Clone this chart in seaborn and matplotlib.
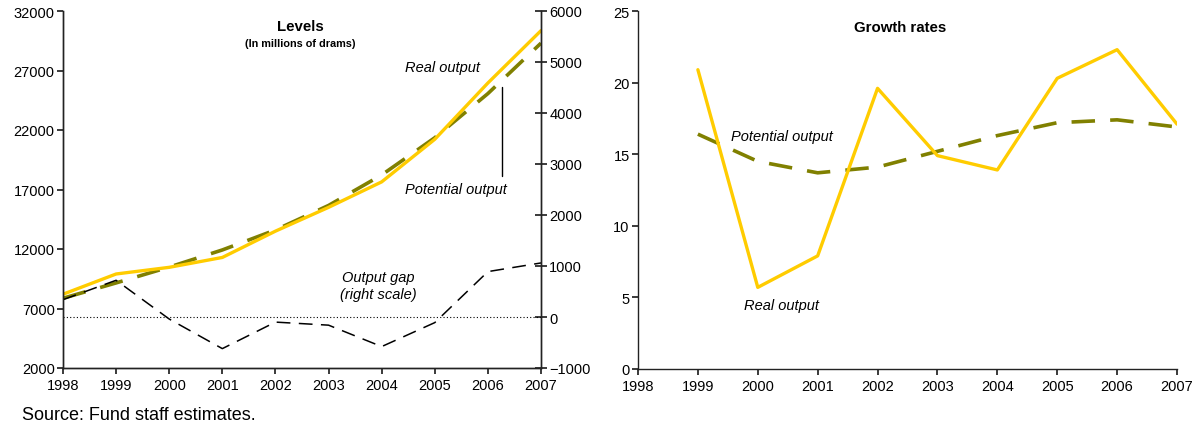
import matplotlib
matplotlib.use("Agg")
import matplotlib.pyplot as plt
import seaborn as sns
import pandas as pd

# ---- data ----
years = [1998, 1999, 2000, 2001, 2002, 2003, 2004, 2005, 2006, 2007]
real_level = [8200, 9900, 10460, 11290, 13500, 15500, 17640, 21220, 25950, 30350]
potential_level = [7860, 9150, 10480, 11920, 13600, 15660, 18220, 21350, 25060, 29300]
output_gap = [340, 720, -40, -620, -100, -160, -580, -110, 890, 1060]

growth_years = [1999, 2000, 2001, 2002, 2003, 2004, 2005, 2006, 2007]
real_growth = [20.9, 5.7, 7.9, 19.6, 14.9, 13.9, 20.3, 22.3, 17.1]
potential_growth = [16.4, 14.5, 13.7, 14.1, 15.2, 16.3, 17.2, 17.4, 16.9]

left_ticks = [2000, 7000, 12000, 17000, 22000, 27000, 32000]
right_ticks = [-1000, 0, 1000, 2000, 3000, 4000, 5000, 6000]
growth_ticks = [0, 5, 10, 15, 20, 25]

YELLOW = "#FFCC00"
OLIVE = "#808000"

sns.set_theme(style="ticks")
plt.rcParams['font.family'] = ['Liberation Sans', 'DejaVu Sans']
plt.rcParams['axes.edgecolor'] = '#222222'
plt.rcParams['axes.linewidth'] = 1.0
plt.rcParams['text.color'] = 'black'
plt.rcParams['xtick.color'] = '#222222'
plt.rcParams['ytick.color'] = '#222222'
plt.rcParams['xtick.labelcolor'] = 'black'
plt.rcParams['ytick.labelcolor'] = 'black'

W, H = 1198, 431
fig = plt.figure(figsize=(W / 100, H / 100), dpi=100)

ax1 = fig.add_axes([63 / W, 1 - 369 / H, (541 - 63) / W, 357 / H])
ax1b = ax1.twinx()
ax2 = fig.add_axes([638 / W, 1 - 370 / H, (1177 - 638) / W, 358 / H])

lev = pd.DataFrame({"year": years, "real": real_level,
                    "potential": potential_level, "gap": output_gap})
gr = pd.DataFrame({"year": growth_years, "real": real_growth,
                   "potential": potential_growth})

# ---- left panel ----
sns.lineplot(data=lev, x="year", y="potential", ax=ax1, color=OLIVE,
             linewidth=2.6, linestyle=(0, (6.5, 4.2)))
sns.lineplot(data=lev, x="year", y="real", ax=ax1, color=YELLOW, linewidth=2.4)

ax1b.axhline(0, color="black", linewidth=0.8, linestyle=(0, (1, 2)))
sns.lineplot(data=lev, x="year", y="gap", ax=ax1b, color="black",
             linewidth=1.1, linestyle=(0, (9, 5.5)))

ax1.set_xlim(1998, 2007)
ax1.set_ylim(2000, 32000)
ax1.set_yticks(left_ticks)
ax1.set_xticks(years)
ax1b.set_ylim(-1000, 6000)
ax1b.set_yticks(right_ticks)
ax1.set_xlabel("")
ax1.set_ylabel("")
ax1b.set_ylabel("")
ax1.spines["top"].set_visible(False)
ax1b.spines["top"].set_visible(False)
ax1.tick_params(axis="y", direction="out", length=4, labelsize=10.5, pad=2)
ax1.tick_params(axis="x", direction="out", length=4, labelsize=10.5, pad=3)
ax1b.tick_params(axis="y", direction="inout", length=8, labelsize=10.5, pad=2)

ax1.text(2002.46, 30750, "Levels", ha="center", va="center",
         fontsize=10.8, fontweight="bold")
ax1.text(2002.46, 29280, "(In millions of drams)", ha="center", va="center",
         fontsize=7.8, fontweight="bold")
ax1.text(2004.44, 27300, "Real output", ha="left", va="center",
         fontsize=10.5, style="italic")
ax1.text(2004.44, 17050, "Potential output", ha="left", va="center",
         fontsize=10.5, style="italic")
ax1.plot([2006.27, 2006.27], [25600, 18100], color="black", linewidth=1.0)
ax1.text(2003.93, 8930, "Output gap\n(right scale)", ha="center", va="center",
         fontsize=10.5, style="italic", linespacing=1.25)

# ---- right panel ----
sns.lineplot(data=gr, x="year", y="potential", ax=ax2, color=OLIVE,
             linewidth=2.6, linestyle=(0, (6.5, 4.2)))
sns.lineplot(data=gr, x="year", y="real", ax=ax2, color=YELLOW, linewidth=2.4)
ax2.set_xlim(1998, 2007)
ax2.set_ylim(0, 25)
ax2.set_yticks(growth_ticks)
ax2.set_xticks(years)
ax2.set_xlabel("")
ax2.set_ylabel("")
ax2.spines["top"].set_visible(False)
ax2.spines["right"].set_visible(False)
ax2.tick_params(axis="y", direction="out", length=4, labelsize=10.5, pad=2)
ax2.tick_params(axis="x", direction="out", length=4, labelsize=10.5, pad=3)

ax2.text(2002.38, 23.9, "Growth rates", ha="center", va="center",
         fontsize=10.8, fontweight="bold")
ax2.text(1999.55, 16.3, "Potential output", ha="left", va="center",
         fontsize=10.5, style="italic")
ax2.text(2000.4, 4.45, "Real output", ha="center", va="center",
         fontsize=10.5, style="italic")

fig.text(22 / W, 1 - 416 / H, "Source: Fund staff estimates.",
         fontsize=13, ha="left", va="center")

fig.savefig("out.png", dpi=100)
